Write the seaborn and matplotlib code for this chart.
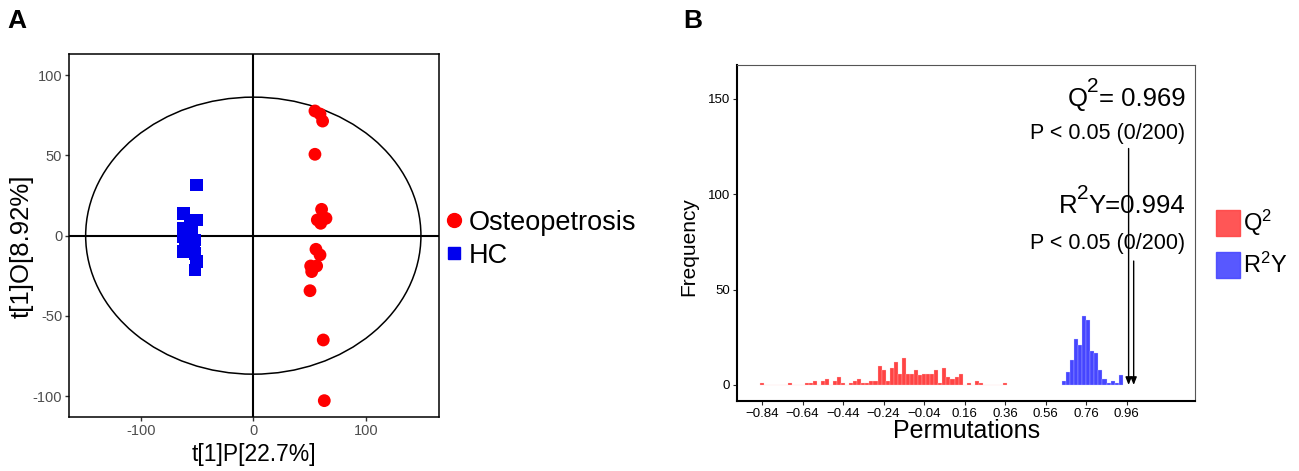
import numpy as np
import pandas as pd
import matplotlib
matplotlib.use('Agg')
import matplotlib.pyplot as plt
import matplotlib.patches as mpatches
from matplotlib.patches import Ellipse
from matplotlib.lines import Line2D
import seaborn as sns

# ---- panel A: OPLS-DA scores ----
op_x = [54.8, 59.3, 61.6, 54.8, 60.7, 64.6, 56.9, 59.9, 55.7, 59.3, 56.3, 51.0, 51.9, 50.4, 62.2, 63.1]
op_y = [77.7, 75.8, 71.4, 50.7, 16.4, 10.8, 9.8, 7.7, -8.5, -12.0, -18.9, -18.9, -22.4, -34.3, -65.0, -102.8]
hc_x = [-50.3, -62.2, -50.3, -56.3, -62.2, -54.8, -62.2, -57.8, -51.8, -60.7, -53.3, -62.2, -51.8, -50.3, -51.8]
hc_y = [31.6, 14.0, 9.8, 9.8, 4.6, 3.6, -0.6, -1.6, -2.7, -4.7, -5.8, -10.0, -11.0, -16.2, -21.4]
groups = ['Osteopetrosis', 'HC']
ellipse_axes = (149.0, 86.3)   # T2 ellipse semi-axes

# ---- panel B: permutation test histograms ----
q2_centers = [-0.84, -0.70, -0.62, -0.60, -0.58, -0.54, -0.52, -0.48, -0.46, -0.44,
              -0.40, -0.38, -0.36, -0.34, -0.32, -0.30, -0.28, -0.26, -0.24, -0.22,
              -0.20, -0.18, -0.16, -0.14, -0.12, -0.10, -0.08, -0.06, -0.04, -0.02,
              0.00, 0.02, 0.04, 0.06, 0.08, 0.10, 0.12, 0.14, 0.18, 0.22, 0.24, 0.36]
q2_counts = [1, 1, 1, 1, 2, 2, 3, 2, 4, 1,
             1, 2, 3, 1, 1, 2, 2, 10, 8, 2,
             9, 12, 6, 14, 6, 6, 8, 5, 6, 6,
             6, 8, 1, 9, 4, 3, 4, 6, 1, 2, 1, 1]
r2y_centers = [0.65, 0.67, 0.69, 0.71, 0.73, 0.75, 0.77, 0.79, 0.81, 0.83, 0.85, 0.87, 0.89, 0.91, 0.93]
r2y_counts = [2, 7, 13, 24, 21, 36, 34, 18, 17, 8, 3, 1, 2, 1, 5]
q2_value, q2_arrow_top = 0.969, 124
r2y_value, r2y_arrow_top = 0.994, 65
x_ticks_b = [-0.84, -0.64, -0.44, -0.24, -0.04, 0.16, 0.36, 0.56, 0.76, 0.96]

RED = '#FF0000'
BLUE = '#0000EE'
HRED = '#FF4444'
HBLUE = '#4646FF'

sns.set_style('white')
plt.rcParams['font.family'] = ['Liberation Sans', 'DejaVu Sans']
plt.rcParams['mathtext.fontset'] = 'custom'
plt.rcParams['mathtext.rm'] = 'Liberation Sans'
plt.rcParams['mathtext.it'] = 'Liberation Sans:italic'
plt.rcParams['axes.unicode_minus'] = False
plt.rcParams['text.color'] = 'black'
plt.rcParams['axes.labelcolor'] = 'black'

fig = plt.figure(figsize=(12.99, 4.71), dpi=100)
renderer = fig.canvas.get_renderer()


def sup_text(ax, x, y, base, sup, rest, size, sup_size, raise_px):
    # right-aligned "base^sup rest" with a large superscript
    t_rest = ax.annotate(rest, (x, y), ha='right', va='center', fontsize=size,
                         annotation_clip=False)
    w_rest = t_rest.get_window_extent(renderer).width
    t_sup = ax.annotate(sup, (x, y), xytext=(-w_rest, raise_px), textcoords='offset pixels',
                        ha='right', va='center', fontsize=sup_size, annotation_clip=False)
    w_sup = t_sup.get_window_extent(renderer).width
    ax.annotate(base, (x, y), xytext=(-w_rest - w_sup, 0), textcoords='offset pixels',
                ha='right', va='center', fontsize=size, annotation_clip=False)


# ---------------- A ----------------
axA = fig.add_axes([0.0533, 0.1153, 0.2846, 0.7694])
df = pd.DataFrame({
    'x': op_x + hc_x,
    'y': op_y + hc_y,
    'group': [groups[0]] * len(op_x) + [groups[1]] * len(hc_x),
})
sns.scatterplot(data=df, x='x', y='y', hue='group', style='group',
                hue_order=groups, style_order=groups,
                palette={groups[0]: RED, groups[1]: BLUE},
                markers={groups[0]: 'o', groups[1]: 's'},
                s=85, linewidth=0, ax=axA, legend=False, zorder=3)
axA.add_patch(Ellipse((0, 0), 2 * ellipse_axes[0], 2 * ellipse_axes[1],
                      fill=False, edgecolor='black', lw=1.1, zorder=2))
axA.axhline(0, color='black', lw=1.5, zorder=1)
axA.axvline(0, color='black', lw=1.5, zorder=1)
axA.set_xlim(-163.6, 165)
axA.set_ylim(-112.8, 113)
axA.set_xticks([-100, 0, 100])
axA.set_yticks([-100, -50, 0, 50, 100])
axA.tick_params(axis='both', length=3, width=1, color='#333333', bottom=True, left=True,
                labelsize=10.5, labelcolor='#4D4D4D', pad=2, direction='out')
for s in axA.spines.values():
    s.set_color('black')
    s.set_linewidth(1.1)
axA.set_xlabel('t[1]P[22.7%]', fontsize=16.5, labelpad=4)
axA.set_ylabel('t[1]O[8.92%]', fontsize=18.5)
axA.yaxis.set_label_coords(-0.095, 0.47)
handles = [Line2D([], [], marker='o', color=RED, ls='', markersize=10),
           Line2D([], [], marker='s', color=BLUE, ls='', markersize=9)]
axA.legend(handles, groups, loc='center left', bbox_to_anchor=(0.95, 0.49),
           frameon=False, fontsize=19.5, handletextpad=0.0, labelspacing=0.25,
           handlelength=1.1, borderaxespad=0.3)

# ---------------- B ----------------
axB = fig.add_axes([0.5674, 0.1486, 0.3526, 0.7134])
bw = 0.02
sns.histplot(x=q2_centers, weights=q2_counts, binwidth=bw,
             binrange=(min(q2_centers) - bw / 2, max(q2_centers) + bw / 2),
             color=HRED, alpha=1, edgecolor='#FFD0D0', linewidth=0.2, ax=axB)
sns.histplot(x=r2y_centers, weights=r2y_counts, binwidth=bw,
             binrange=(min(r2y_centers) - bw / 2, max(r2y_centers) + bw / 2),
             color=HBLUE, alpha=1, edgecolor='#D0D0FF', linewidth=0.2, ax=axB)
axB.set_xlim(-0.963, 1.297)
axB.set_ylim(-8.4, 167.8)
for val, top in [(q2_value, q2_arrow_top), (r2y_value, r2y_arrow_top)]:
    axB.annotate('', xy=(val, 0), xytext=(val, top),
                 arrowprops=dict(arrowstyle='-|>,head_length=0.45,head_width=0.18',
                                 color='black', lw=1.0, shrinkA=0, shrinkB=0))
tx = 1.25
sup_text(axB, tx, 150, 'Q', '2', f'= {q2_value:.3f}', 18.5, 15, 12)
axB.text(tx, 132, 'P < 0.05 (0/200)', ha='right', va='center', fontsize=15.5)
sup_text(axB, tx, 94, 'R', '2', f'Y={r2y_value:.3f}', 18.5, 15, 12)
axB.text(tx, 74, 'P < 0.05 (0/200)', ha='right', va='center', fontsize=15.5)
axB.set_xticks(x_ticks_b)
axB.set_xticklabels([f'{t:.2f}'.replace('-', '\u2212') for t in x_ticks_b])
axB.set_yticks([0, 50, 100, 150])
axB.tick_params(axis='both', length=3, width=0.8, labelsize=9.5, bottom=True, left=True,
                labelcolor='black', pad=2, direction='out')
for name, s in axB.spines.items():
    s.set_color('black' if name in ('left', 'bottom') else '#555555')
    s.set_linewidth(1.5 if name in ('left', 'bottom') else 0.8)
axB.set_xlabel('Permutations', fontsize=18, labelpad=-1)
axB.set_ylabel('Frequency', fontsize=15)
axB.yaxis.set_label_coords(-0.085, 0.46)
leg_handles = [mpatches.Patch(color=HRED, alpha=0.9), mpatches.Patch(color=HBLUE, alpha=0.9)]
axB.legend(leg_handles, [r'Q$^2$', r'R$^2$Y'], loc='center left',
           bbox_to_anchor=(1.0, 0.47), frameon=False, fontsize=17,
           handlelength=1.0, handleheight=1.3, handletextpad=0.15, labelspacing=0.6)

fig.text(0.006, 0.94, 'A', fontsize=19, fontweight='bold')
fig.text(0.526, 0.94, 'B', fontsize=19, fontweight='bold')

fig.savefig('out.png', dpi=100)
